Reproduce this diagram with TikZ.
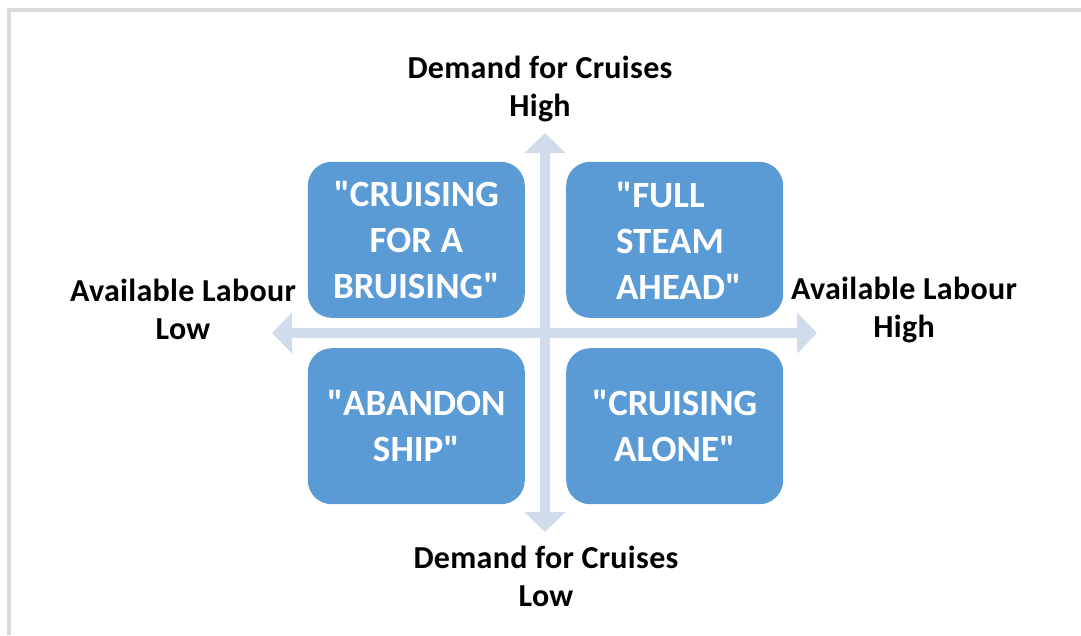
\documentclass[tikz,border=0pt]{standalone}
\usepackage{fontspec}
\setmainfont{Carlito}[Ligatures=TeXOff]
\usetikzlibrary{positioning,arrows.meta}

\definecolor{quadblue}{HTML}{5B9BD5}
\definecolor{axisblue}{HTML}{D0DCEC}
\definecolor{framegray}{HTML}{D9D9D9}

\begin{document}
\begin{tikzpicture}[x=1pt,y=-1pt,
  quad/.style={fill=quadblue,rounded corners=24pt,minimum width=217pt,minimum height=156pt,
    text=white,font=\fontsize{37}{46}\selectfont\bfseries,align=center,inner sep=0pt},
  axis/.style={axisblue,line width=10pt,{Triangle[width=40pt,length=20pt]}-{Triangle[width=40pt,length=20pt]}},
  lbl/.style={font=\fontsize{32}{38}\selectfont\bfseries\addfontfeature{LetterSpace=1},align=center,inner sep=0pt},
  node distance=15pt and 20pt]

\useasboundingbox (0,0) rectangle (1081,635);

% frame
\draw[framegray,line width=4pt] (9,635) -- (9,10) -- (1081,10);

% axes
\coordinate (c) at (545,333);
\coordinate (top) at (545,133);
\coordinate (bot) at (545,532);
\coordinate (lft) at (272,333);
\coordinate (rgt) at (817,333);
\draw[axis] (bot) -- (top);
\draw[axis] (lft) -- (rgt);

% quadrants
\node[quad,above left=of c] (qNW) {"CRUISING\\FOR A\\ BRUISING"};
\node[quad,above right=15pt and 21pt of c] (qNE) {};
\node[align=left,text=white,font=\fontsize{37}{46}\selectfont\bfseries,inner sep=0pt] (tNE) at ([xshift=4pt,yshift=-1pt]qNE.center) {"FULL\\ STEAM\\ AHEAD"};
\node[quad,below left=of c] (qSW) {"ABANDON\\SHIP"};
\node[quad,below right=15pt and 21pt of c] (qSE) {"CRUISING\\ALONE"};

% axis labels
\node[lbl] (demHi) at (540,89) {Demand for Cruises\\High};
\node[lbl] (demLo) at (546,576) {Demand for Cruises\\Low};
\node[lbl] (labLo) at (183,309) {Available Labour\\Low};
\node[lbl] (labHi) at (904,310) {Available Labour\\High};

\end{tikzpicture}
\end{document}
